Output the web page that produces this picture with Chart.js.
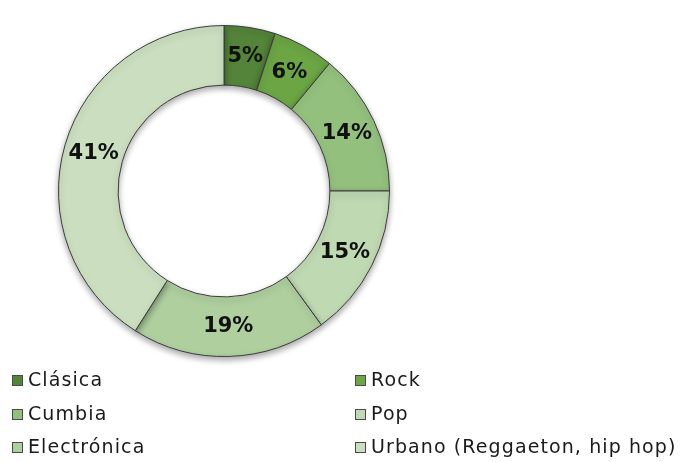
<!DOCTYPE html>
<html>
<head>
<meta charset="utf-8">
<script src="https://cdn.jsdelivr.net/npm/chart.js@4/dist/chart.umd.min.js"></script>
<style>
  html, body { margin: 0; padding: 0; background: #fff; }
  #wrap { position: relative; width: 680px; height: 462px; }
  #legend { position: absolute; left: 0; top: 366px; width: 680px; font-family: "DejaVu Sans", sans-serif; font-size: 19px; letter-spacing: 1.1px; color: #1a1a1a; }
  .item { position: absolute; height: 26px; line-height: 26px; white-space: nowrap; }
  .box { display: inline-block; width: 9px; height: 9px; border: 1px solid #4a4a4a; margin-right: 5px; vertical-align: 0px; }
</style>
</head>
<body>
<div id="wrap">
  <canvas id="pieChart" width="680" height="462"></canvas>
  <div id="legend"></div>
</div>
<script>
const generos = ['Clásica', 'Rock', 'Cumbia', 'Pop', 'Electrónica', 'Urbano (Reggaeton, hip hop)'];
const porcentajes = [5, 6, 14, 15, 19, 41];
const colores = ['#54843a', '#6ba544', '#94c07e', '#bfd9b3', '#afcf9f', '#cbdfc0'];

// draw the percent labels in the middle of each ring slice
const sliceLabels = {
    id: 'sliceLabels',
    afterDatasetsDraw(chart) {
        const ctx = chart.ctx;
        const meta = chart.getDatasetMeta(0);
        ctx.save();
        ctx.font = 'bold 21px "DejaVu Sans", sans-serif';
        ctx.fillStyle = '#111';
        ctx.textAlign = 'center';
        ctx.textBaseline = 'middle';
        meta.data.forEach((arc, i) => {
            const pos = arc.tooltipPosition();
            ctx.fillText(porcentajes[i] + '%', pos.x, pos.y);
        });
        ctx.restore();
    }
};

// soft shadow under the ring
const ringShadow = {
    id: 'ringShadow',
    beforeDatasetsDraw(chart) {
        const ctx = chart.ctx;
        ctx.save();
        ctx.shadowColor = 'rgba(0,0,0,0.35)';
        ctx.shadowBlur = 6;
        ctx.shadowOffsetY = 3;
    },
    afterDatasetsDraw(chart) {
        chart.ctx.restore();
    }
};

new Chart(document.getElementById('pieChart').getContext('2d'), {
    type: 'doughnut',
    data: {
        labels: generos,
        datasets: [{
            data: porcentajes,
            backgroundColor: colores,
            borderColor: '#3c3c3c',
            borderWidth: 1
        }]
    },
    options: {
        responsive: false,
        animation: false,
        cutout: '64%',
        layout: { padding: { top: 25, bottom: 105, left: 58, right: 290 } },
        plugins: {
            legend: { display: false },
            tooltip: { enabled: false }
        }
    },
    plugins: [ringShadow, sliceLabels]
});

// two-column legend
const legend = document.getElementById('legend');
generos.forEach((g, i) => {
    const el = document.createElement('div');
    el.className = 'item';
    el.style.left = (i % 2 === 0 ? 12 : 355) + 'px';
    el.style.top = (Math.floor(i / 2) * 33.5) + 'px';
    el.innerHTML = '<span class="box" style="background:' + colores[i] + '"></span>' + g;
    legend.appendChild(el);
});
</script>
</body>
</html>
